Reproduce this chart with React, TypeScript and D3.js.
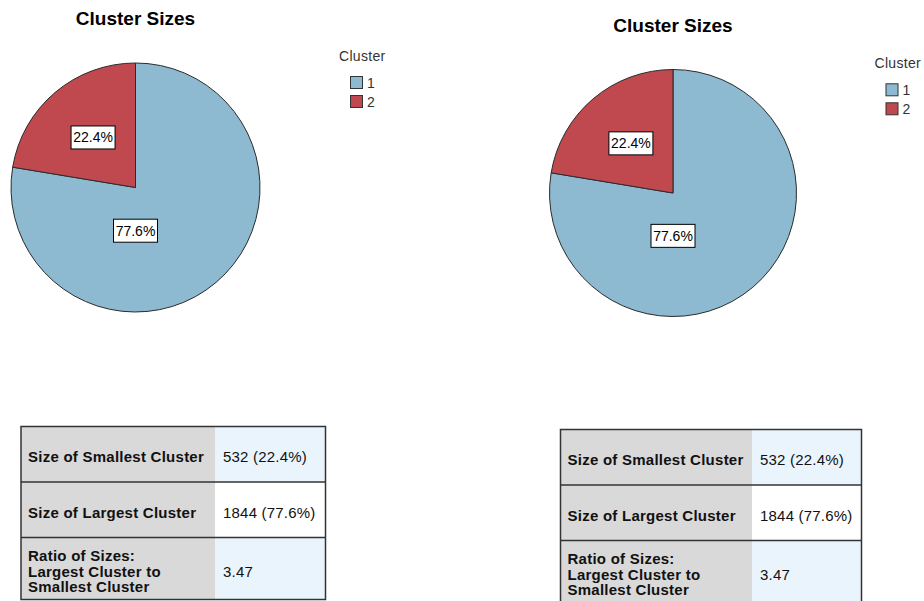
import React from 'react';
import * as d3 from 'd3';

// ---- data ----
const clusterNames: string[] = ['1', '2'];
const clusterSizes: number[] = [1844, 532];
const clusterColors: string[] = ['#8db9d1', '#c0494f'];
const chartTitle = 'Cluster Sizes';
const legendTitle = 'Cluster';
const tableLabels: string[][] = [
  ['Size of Smallest Cluster'],
  ['Size of Largest Cluster'],
  ['Ratio of Sizes:', 'Largest Cluster to', 'Smallest Cluster'],
];
const tableValues: string[] = ['532 (22.4%)', '1844 (77.6%)', '3.47'];
const valueCellColors: string[] = ['#eaf4fd', '#ffffff', '#eaf4fd'];

// ---- layout (two copies of the same output) ----
const panels = [
  { cx: 135.5, cy: 187.5, r: 124.5, titleY: 25, legX: 339, legY: 61, tx: 21, ty: 426.5, tw: 304.5, cw: 194 },
  { cx: 673, cy: 193, r: 123.5, titleY: 32, legX: 874.5, legY: 68.3, tx: 560.5, ty: 429.5, tw: 301, cw: 191.5 },
];

const FONT = "Arial, 'Liberation Sans', Helvetica, sans-serif";
const total = d3.sum(clusterSizes);
const fmtPct = (v: number) => d3.format('.1f')((v / total) * 100) + '%';

function Panel({ p }: { p: typeof panels[number] }) {
  const pie = d3.pie<number>().sort(null).value((d) => d);
  const arcs = pie(clusterSizes);
  const arc = d3.arc<d3.PieArcDatum<number>>().innerRadius(0).outerRadius(p.r);

  const labelPos = (a: d3.PieArcDatum<number>) => {
    const span = a.endAngle - a.startAngle;
    const ang = span > Math.PI ? Math.PI : (a.startAngle + a.endAngle) / 2;
    const rr = span > Math.PI ? p.r * 0.347 : p.r * 0.527;
    return [Math.sin(ang) * rr, -Math.cos(ang) * rr];
  };

  const rowH = [55.5, 55.5, 62];
  const rowY = [0, rowH[0], rowH[0] + rowH[1]];
  const tableH = d3.sum(rowH);

  return (
    <g>
      <text x={p.cx} y={p.titleY} textAnchor="middle" fontFamily={FONT} fontWeight="bold" fontSize={19} fill="#000">
        {chartTitle}
      </text>
      <g transform={`translate(${p.cx},${p.cy})`}>
        {arcs.map((a, i) => (
          <path key={i} d={arc(a) || ''} fill={clusterColors[i]} stroke="#2b2b2b" strokeWidth={1} />
        ))}
        {arcs.map((a, i) => {
          const [lx, ly] = labelPos(a);
          return (
            <g key={'l' + i} transform={`translate(${lx},${ly})`}>
              <rect x={-22} y={-11.5} width={44} height={23} fill="#fff" stroke="#000" strokeWidth={1} />
              <text x={0} y={5} textAnchor="middle" fontFamily={FONT} fontSize={14} fill="#000">
                {fmtPct(a.value)}
              </text>
            </g>
          );
        })}
      </g>
      <g>
        <text x={p.legX} y={p.legY} fontFamily={FONT} fontSize={14} letterSpacing={0.3} fill="#333">
          {legendTitle}
        </text>
        {clusterNames.map((n, i) => (
          <g key={n} transform={`translate(${p.legX + 11},${p.legY + 15 + i * 19})`}>
            <rect x={0.5} y={0.5} width={12} height={12} fill={clusterColors[i]} stroke="#333" strokeWidth={1} />
            <text x={17} y={12} fontFamily={FONT} fontSize={14} fill="#333">
              {n}
            </text>
          </g>
        ))}
      </g>
      <g transform={`translate(${p.tx},${p.ty})`}>
        {tableLabels.map((lines, i) => (
          <g key={i}>
            <rect x={0} y={rowY[i]} width={p.cw} height={rowH[i]} fill="#d9d9d9" />
            <rect x={p.cw} y={rowY[i]} width={p.tw - p.cw} height={rowH[i]} fill={valueCellColors[i]} />
          </g>
        ))}
        {tableLabels.map((lines, i) => (
          <g key={'t' + i}>
            {lines.map((ln, j) => (
              <text
                key={j}
                x={7}
                y={lines.length === 1 ? rowY[i] + 35.5 : rowY[i] + 23.5 + j * 15.6}
                fontFamily={FONT}
                fontWeight="bold"
                fontSize={15}
                letterSpacing={0.25}
                fill="#111"
              >
                {ln}
              </text>
            ))}
            <text
              x={p.cw + 8}
              y={lines.length === 1 ? rowY[i] + 35.5 : rowY[i] + 39.1}
              fontFamily={FONT}
              fontSize={15}
              letterSpacing={0.2}
              fill="#111"
            >
              {tableValues[i]}
            </text>
          </g>
        ))}
        {[rowY[1], rowY[2]].map((y, i) => (
          <line key={i} x1={0} x2={p.tw} y1={y} y2={y} stroke="#333" strokeWidth={1.5} />
        ))}
        <rect x={0} y={0} width={p.tw} height={tableH} fill="none" stroke="#333" strokeWidth={1.5} />
      </g>
    </g>
  );
}

export default function App() {
  return (
    <svg
      width={924}
      height={601}
      viewBox="0 0 924 601"
      style={{ position: 'absolute', left: 0, top: 0, background: '#fff' }}
    >
      <rect x={0} y={0} width={924} height={601} fill="#fff" />
      {panels.map((p, i) => (
        <Panel key={i} p={p} />
      ))}
    </svg>
  );
}
